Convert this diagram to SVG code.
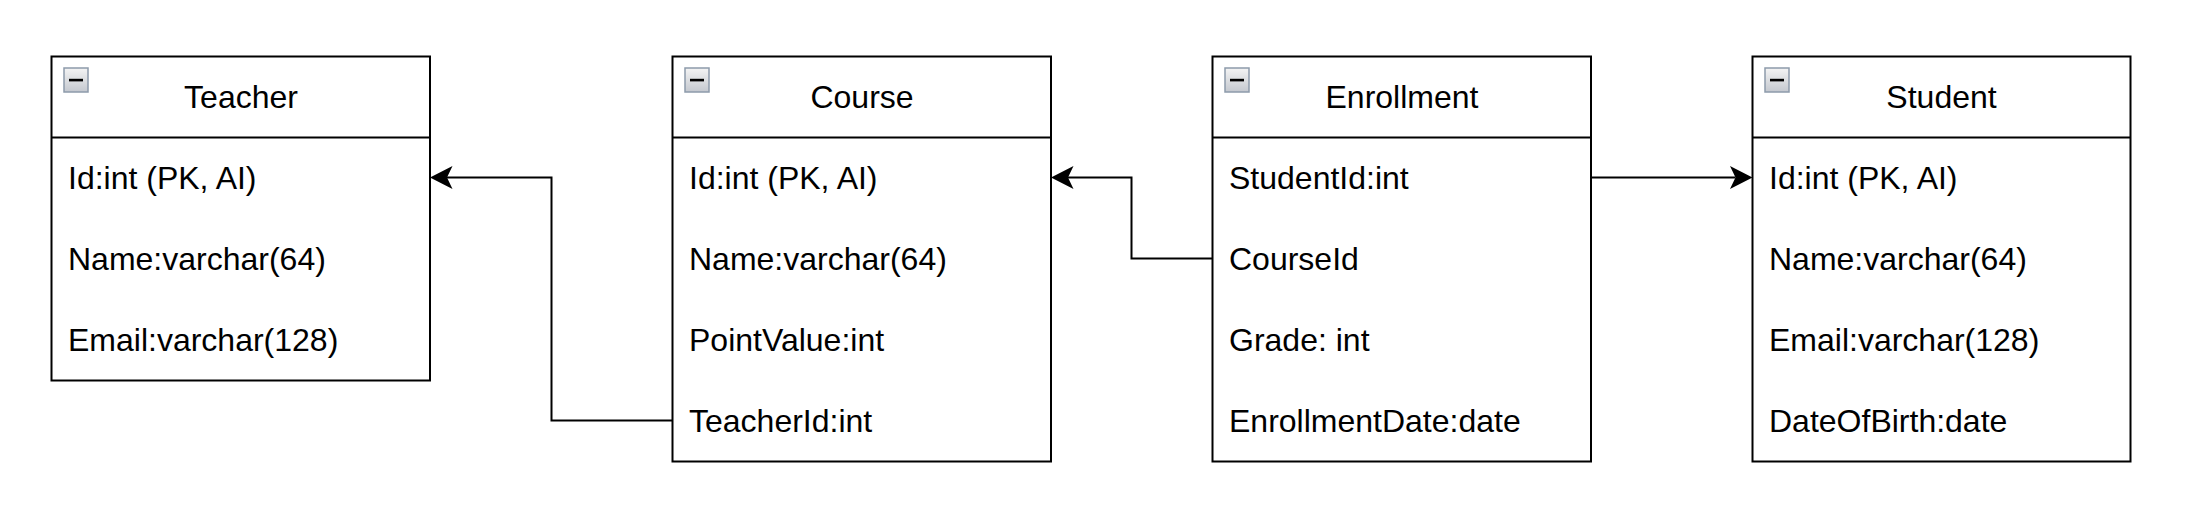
<svg xmlns="http://www.w3.org/2000/svg" width="2188" height="518" viewBox="0 0 2188 518">
  <style>
    .box { fill: #ffffff; stroke: #000000; stroke-width: 2; }
    .sep { stroke: #000000; stroke-width: 2; fill: none; }
    .title { font-family: "Liberation Sans", Arial, Helvetica, sans-serif; font-size: 32px; fill: #000000; text-anchor: middle; }
    .row { font-family: "Liberation Sans", Arial, Helvetica, sans-serif; font-size: 32px; fill: #000000; }
    .icon { fill: url(#iconGrad); stroke: #8d9aab; stroke-width: 1.5; }
    .minus { fill: #000000; }
    .edge { fill: none; stroke: #000000; stroke-width: 2; }
  </style>
  <defs>
    <linearGradient id="iconGrad" x1="0" y1="0" x2="0" y2="1">
      <stop offset="0" stop-color="#f4f4f4"/>
      <stop offset="1" stop-color="#c4c8cf"/>
    </linearGradient>
    <marker id="arrow" markerUnits="userSpaceOnUse" markerWidth="26" markerHeight="26" viewBox="0 0 26 26" refX="7" refY="13" orient="auto">
      <path d="M24,13 L1.5,1.5 L7,13 L1.5,24.5 Z" fill="#000000"/>
    </marker>
  </defs>

  <rect width="2188" height="518" fill="#ffffff"/>

  <g id="Teacher">
    <rect class="box" x="51.5" y="56.5" width="378.5" height="324"/>
    <line class="sep" x1="51.5" y1="137.5" x2="430" y2="137.5"/>
    <rect class="icon" x="64" y="68" width="24" height="24"/>
    <rect class="minus" x="69" y="78.8" width="14" height="2.6"/>
    <text class="title" x="241" y="108">Teacher</text>
    <text class="row" x="68" y="188.5">Id:int (PK, AI)</text>
    <text class="row" x="68" y="269.5">Name:varchar(64)</text>
    <text class="row" x="68" y="350.5">Email:varchar(128)</text>
  </g>

  <g id="Course">
    <rect class="box" x="672.5" y="56.5" width="378.5" height="405"/>
    <line class="sep" x1="672.5" y1="137.5" x2="1051" y2="137.5"/>
    <rect class="icon" x="685" y="68" width="24" height="24"/>
    <rect class="minus" x="690" y="78.8" width="14" height="2.6"/>
    <text class="title" x="862" y="108">Course</text>
    <text class="row" x="689" y="188.5">Id:int (PK, AI)</text>
    <text class="row" x="689" y="269.5">Name:varchar(64)</text>
    <text class="row" x="689" y="350.5">PointValue:int</text>
    <text class="row" x="689" y="431.5">TeacherId:int</text>
  </g>

  <g id="Enrollment">
    <rect class="box" x="1212.5" y="56.5" width="378.5" height="405"/>
    <line class="sep" x1="1212.5" y1="137.5" x2="1591" y2="137.5"/>
    <rect class="icon" x="1225" y="68" width="24" height="24"/>
    <rect class="minus" x="1230" y="78.8" width="14" height="2.6"/>
    <text class="title" x="1402" y="108">Enrollment</text>
    <text class="row" x="1229" y="188.5">StudentId:int</text>
    <text class="row" x="1229" y="269.5">CourseId</text>
    <text class="row" x="1229" y="350.5">Grade: int</text>
    <text class="row" x="1229" y="431.5">EnrollmentDate:date</text>
  </g>

  <g id="Student">
    <rect class="box" x="1752.5" y="56.5" width="378" height="405"/>
    <line class="sep" x1="1752.5" y1="137.5" x2="2130.5" y2="137.5"/>
    <rect class="icon" x="1765" y="68" width="24" height="24"/>
    <rect class="minus" x="1770" y="78.8" width="14" height="2.6"/>
    <text class="title" x="1941.5" y="108">Student</text>
    <text class="row" x="1769" y="188.5">Id:int (PK, AI)</text>
    <text class="row" x="1769" y="269.5">Name:varchar(64)</text>
    <text class="row" x="1769" y="350.5">Email:varchar(128)</text>
    <text class="row" x="1769" y="431.5">DateOfBirth:date</text>
  </g>

  <g id="connectors">
    <path class="edge" d="M672.5,420.5 L551.5,420.5 L551.5,177.5 L447,177.5" marker-end="url(#arrow)"/>
    <path class="edge" d="M1212.5,258.5 L1131.5,258.5 L1131.5,177.5 L1068,177.5" marker-end="url(#arrow)"/>
    <path class="edge" d="M1591,177.5 L1735.5,177.5" marker-end="url(#arrow)"/>
  </g>
</svg>
